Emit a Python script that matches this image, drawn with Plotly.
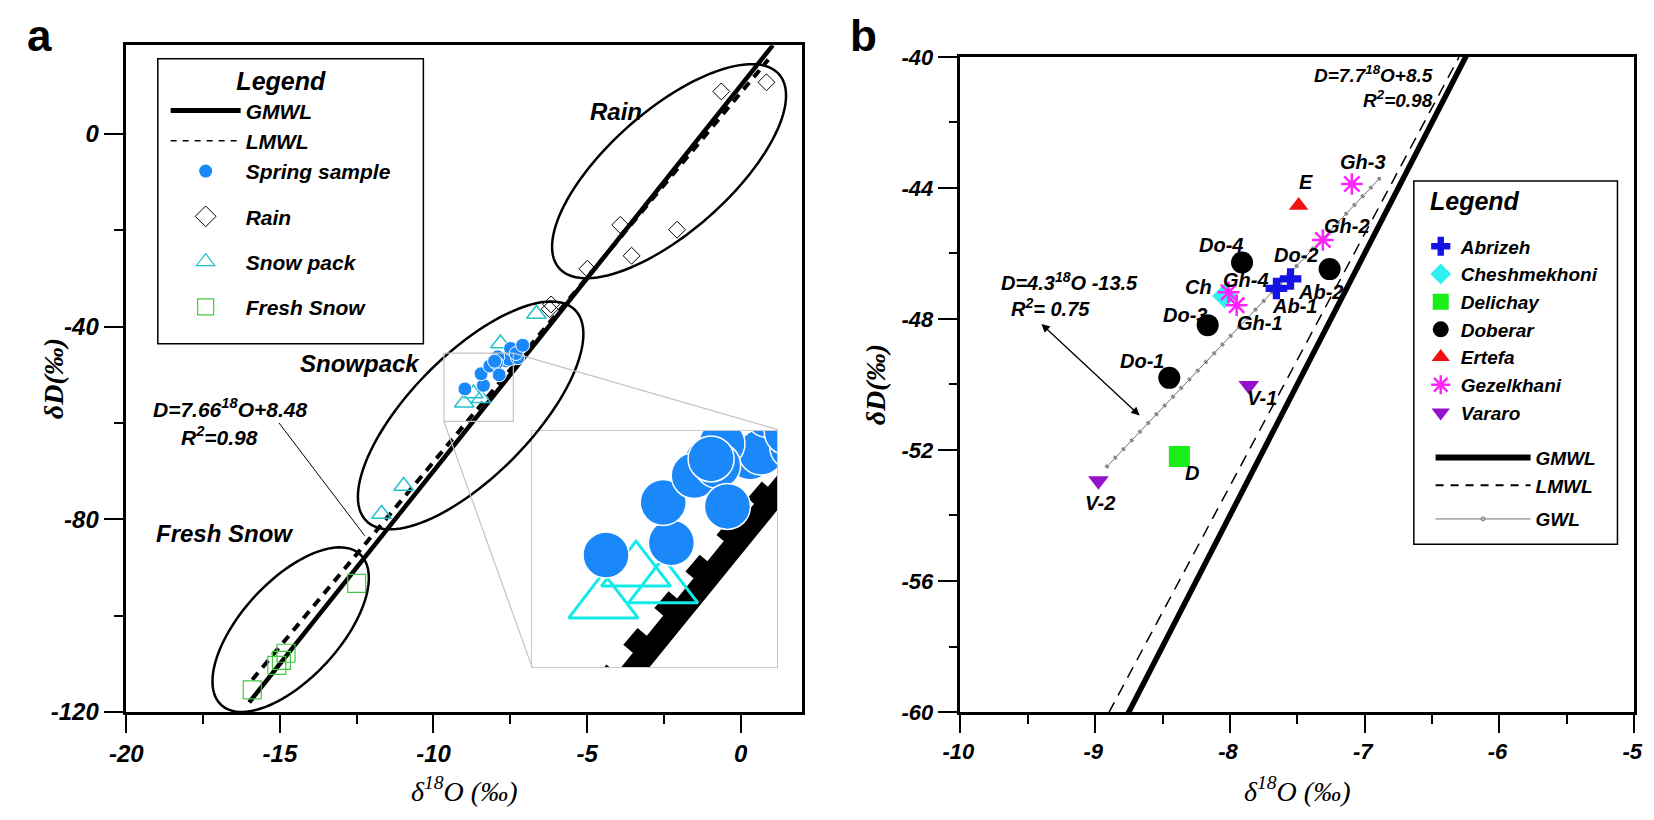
import numpy as np
import plotly.graph_objects as go

W, H = 1654, 820          # browser window
OFF = 8                   # default page margin before the plot div
FW, FH = W - OFF, H - OFF

# ---- panel a data (delta 18O, delta D, permil) ----
gmwl_o = [-16.0, 1.05]
gmwl_d = [-118.0, 18.4]
lmwl_a_o = [-15.9, 0.9]
lmwl_a_d = [-113.3, 15.4]

rain_o = [-0.63, 0.84, -3.92, -2.07, -3.55, -4.99, -6.22, -6.17]
rain_d = [8.8, 10.7, -18.9, -19.9, -25.3, -28.0, -36.4, -35.4]

snow_o = [-9.0, -8.7, -8.45, -7.82, -6.65, -10.97, -11.69]
snow_d = [-55.8, -53.9, -54.9, -43.5, -37.4, -73.1, -78.9]

fresh_o = [-12.5, -14.8, -14.95, -15.1, -15.9]
fresh_d = [-93.3, -107.8, -109.3, -110.3, -115.4]

# ---- panel b data: spring samples by site ----
ab_o = [-7.655, -7.55]
ab_d = [-47.07, -46.78]
ab_lbl = ["Ab-1", "Ab-2"]
ch_o = [-8.04]
ch_d = [-47.30]
ch_lbl = ["Ch"]
de_o = [-8.375]
de_d = [-52.20]
de_lbl = ["D"]
do_o = [-8.45, -7.26, -8.165, -7.91]
do_d = [-49.80, -46.48, -48.19, -46.28]
do_lbl = ["Do-1", "Do-2", "Do-3", "Do-4"]
er_o = [-7.49]
er_d = [-44.54]
er_lbl = ["E"]
gh_o = [-7.95, -7.31, -7.095, -8.01]
gh_d = [-47.58, -45.59, -43.88, -47.19]
gh_lbl = ["Gh-1", "Gh-2", "Gh-3", "Gh-4"]
va_o = [-7.86, -8.976]
va_d = [-50.03, -52.94]
va_lbl = ["V-1", "V-2"]

lmwl_b_o = [-8.9, -6.3]
lmwl_b_d = [-60.03, -40.01]
gwl_o = [-8.92, -6.88]
gwl_d = [-52.54, -43.67]

# tick labels
a_xticks = [-20, -15, -10, -5, 0]
a_xtext = ["-20", "-15", "-10", "-5", "0"]
a_yticks = [-120, -80, -40, 0]
a_ytext = ["-120", "-80", "-40", "0"]
b_xticks = [-10, -9, -8, -7, -6, -5]
b_xtext = ["-10", "-9", "-8", "-7", "-6", "-5"]
b_yticks = [-60, -56, -52, -48, -44, -40]
b_ytext = ["-60", "-56", "-52", "-48", "-44", "-40"]

spring_o = ab_o + ch_o + de_o + do_o + er_o + gh_o + va_o
spring_d = ab_d + ch_d + de_d + do_d + er_d + gh_d + va_d

# ---- geometry (pixels of the 1654x820 window) ----
A_L, A_R, A_T, A_B = 110, 797, 34, 722
B_L, B_R, B_T, B_B = 958, 1643, 46, 722
a_xr = [-20, 2]
a_yr = [-120, 18.4]
inset_xr = [-9.66, -7.40]
inset_yr = [-59.66, -45.52]


def px(x):
    return (x - OFF) / FW


def py(y):
    return 1 - (y - OFF) / FH


def dx(p0, p1):
    return [px(p0), px(p1)]


def dy(top, bot):
    return [py(bot), py(top)]


sx = (A_R - A_L) / (a_xr[1] - a_xr[0])
sy = (A_B - A_T) / (a_yr[1] - a_yr[0])


def ellipse_path(cx, cy, a, b, ang):
    t = np.linspace(0, 2 * np.pi, 120)
    th = np.radians(ang)
    ex = a * np.cos(t) * np.cos(th) - b * np.sin(t) * np.sin(th)
    ey = a * np.cos(t) * np.sin(th) + b * np.sin(t) * np.cos(th)
    xs = cx + ex / sx
    ys = cy + ey / sy
    pts = " L ".join(f"{x:.4f},{y:.4f}" for x, y in zip(xs, ys))
    return "M " + pts + " Z"


BI = dict(family="Liberation Sans", weight="bold", style="italic", color="black")
SPRING = "#1a88f8"
SNOW = "#22c2cc"
FRESH = "#44c844"

fig = go.Figure()

# ---- panel a ----
fig.add_trace(go.Scatter(x=gmwl_o, y=gmwl_d, mode="lines", line=dict(color="black", width=4.5),
                         showlegend=False, xaxis="x", yaxis="y"))
fig.add_trace(go.Scatter(x=lmwl_a_o, y=lmwl_a_d, mode="lines",
                         line=dict(color="black", width=4, dash="9px,7px"),
                         showlegend=False, xaxis="x", yaxis="y"))
fig.add_trace(go.Scatter(x=rain_o, y=rain_d, mode="markers",
                         marker=dict(symbol="diamond-open", size=13, color="black", line=dict(width=1)),
                         showlegend=False, xaxis="x", yaxis="y"))
fig.add_trace(go.Scatter(x=snow_o, y=snow_d, mode="markers",
                         marker=dict(symbol="triangle-up-open", size=17, color=SNOW, line=dict(width=1.5)),
                         showlegend=False, xaxis="x", yaxis="y"))
fig.add_trace(go.Scatter(x=fresh_o, y=fresh_d, mode="markers",
                         marker=dict(symbol="square-open", size=18, color=FRESH, line=dict(width=1.2)),
                         showlegend=False, xaxis="x", yaxis="y"))
fig.add_trace(go.Scatter(x=spring_o, y=spring_d, mode="markers",
                         marker=dict(symbol="circle", size=14, color=SPRING, line=dict(color="white", width=1)),
                         showlegend=False, xaxis="x", yaxis="y"))

# inset (magnified view)
fig.add_trace(go.Scatter(x=gmwl_o, y=gmwl_d, mode="lines", line=dict(color="black", width=22),
                         showlegend=False, xaxis="x3", yaxis="y3"))
fig.add_trace(go.Scatter(x=lmwl_a_o, y=lmwl_a_d, mode="lines",
                         line=dict(color="black", width=16, dash="22px,26px"),
                         showlegend=False, xaxis="x3", yaxis="y3"))
fig.add_trace(go.Scatter(x=snow_o, y=snow_d, mode="markers",
                         marker=dict(symbol="triangle-up-open", size=60, color="#12eaea", line=dict(width=3)),
                         showlegend=False, xaxis="x3", yaxis="y3"))
fig.add_trace(go.Scatter(x=spring_o, y=spring_d, mode="markers",
                         marker=dict(symbol="circle", size=46, color=SPRING, line=dict(color="white", width=1.5)),
                         showlegend=False, xaxis="x3", yaxis="y3"))

# legend a entries
leg_a = [
    ("GMWL", dict(mode="lines", line=dict(color="black", width=5)), "g1"),
    ("LMWL", dict(mode="lines", line=dict(color="black", width=1.5, dash="6px,6px")), "g1"),
    ("Spring sample", dict(mode="markers", marker=dict(symbol="circle", size=13, color=SPRING)), "g1"),
    ("Rain", dict(mode="markers", marker=dict(symbol="diamond-open", size=16, color="black",
                                               line=dict(width=1))), "g2"),
    ("Snow pack", dict(mode="markers", marker=dict(symbol="triangle-up-open", size=16, color=SNOW,
                                                    line=dict(width=1.2))), "g3"),
    ("Fresh Snow", dict(mode="markers", marker=dict(symbol="square-open", size=16, color=FRESH,
                                                     line=dict(width=1.2))), "g4"),
]
for name, st, grp in leg_a:
    fig.add_trace(go.Scatter(x=[None], y=[None], name=name, legend="legend", legendgroup=grp,
                             xaxis="x", yaxis="y", **st))

# ---- panel b ----
fig.add_trace(go.Scatter(x=gmwl_o, y=gmwl_d, mode="lines", line=dict(color="black", width=5.5),
                         showlegend=False, xaxis="x2", yaxis="y2"))
fig.add_trace(go.Scatter(x=lmwl_b_o, y=lmwl_b_d, mode="lines",
                         line=dict(color="black", width=1.5, dash="12px,8px"),
                         showlegend=False, xaxis="x2", yaxis="y2"))
fig.add_trace(go.Scatter(x=gwl_o, y=gwl_d, mode="lines", line=dict(color="#707070", width=1),
                         showlegend=False, xaxis="x2", yaxis="y2"))
fig.add_trace(go.Scatter(x=gwl_o, y=gwl_d, mode="lines",
                         line=dict(color="#8a8a8a", width=4, dash="3px,9px"),
                         showlegend=False, xaxis="x2", yaxis="y2"))

sites = [
    ("Abrizeh", ab_o, ab_d, dict(symbol="cross", size=18, color="#1414e6")),
    ("Cheshmekhoni", ch_o, ch_d, dict(symbol="diamond", size=19, color="#2ef0f0")),
    ("Delichay", de_o, de_d, dict(symbol="square", size=21, color="#19ee19")),
    ("Doberar", do_o, do_d, dict(symbol="circle", size=22, color="black")),
    ("Ertefa", er_o, er_d, dict(symbol="triangle-up", size=17, color="#f01010")),
    ("Gezelkhani", gh_o, gh_d, dict(symbol="asterisk-open", size=18, color="#ff22ff",
                                    line=dict(width=2.5, color="#ff22ff"))),
    ("Vararo", va_o, va_d, dict(symbol="triangle-down", size=18, color="#9412cc")),
]
for name, xo, yd, mk in sites:
    fig.add_trace(go.Scatter(x=xo, y=yd, mode="markers", marker=mk, name=name, legend="legend2",
                             xaxis="x2", yaxis="y2"))

leg_b_lines = [
    ("GMWL", dict(mode="lines", line=dict(color="black", width=6)), "l1"),
    ("LMWL", dict(mode="lines", line=dict(color="black", width=2, dash="8px,7px")), "l1"),
    ("GWL", dict(mode="lines+markers", line=dict(color="#707070", width=1),
                 marker=dict(symbol="circle-open", size=4, color="#707070")), "l2"),
]
for name, st, grp in leg_b_lines:
    fig.add_trace(go.Scatter(x=[None], y=[None], name=name, legend="legend3", legendgroup=grp,
                             xaxis="x2", yaxis="y2", **st))

# ---- shapes ----
shapes = []
for cx, cy, a, b, ang in [(-2.33, -7.75, 150, 62, 42), (-8.79, -58.44, 152, 62, 46),
                          (-14.65, -102.9, 105, 50, 48)]:
    shapes.append(dict(type="path", path=ellipse_path(cx, cy, a, b, ang), xref="x", yref="y",
                       line=dict(color="black", width=2.5)))
# zoom source box and connectors
shapes.append(dict(type="rect", xref="x", yref="y", x0=inset_xr[0], x1=inset_xr[1],
                   y0=inset_yr[0], y1=inset_yr[1], line=dict(color="#c4c4c4", width=1.2)))
shapes.append(dict(type="line", xref="x", yref="y", x0=inset_xr[1], y0=inset_yr[1],
                   x1=1.22, y1=-61.4, line=dict(color="#c4c4c4", width=1.2)))
shapes.append(dict(type="line", xref="x", yref="y", x0=inset_xr[0], y0=inset_yr[0],
                   x1=-6.79, y1=-110.7, line=dict(color="#c4c4c4", width=1.2)))
# equation leader line in a
shapes.append(dict(type="line", xref="x", yref="y", x0=-15.03, y0=-60.0, x1=-12.24, y1=-83.4,
                   line=dict(color="black", width=1)))
# legend frames
shapes.append(dict(type="rect", xref="paper", yref="paper", x0=px(142), x1=px(412),
                   y0=py(342), y1=py(48), line=dict(color="black", width=1.5)))
shapes.append(dict(type="rect", xref="paper", yref="paper", x0=px(1419), x1=px(1626),
                   y0=py(549), y1=py(174), line=dict(color="black", width=1.5),
                   fillcolor="white", layer="above"))

# ---- annotations ----
PAPER = dict(xref="paper", yref="paper", showarrow=False, xanchor="center", yanchor="middle")
ann = []
ann.append(dict(PAPER, text="a", x=px(22), y=py(24),
                font=dict(family="Liberation Sans", size=44, weight="bold", color="black")))
ann.append(dict(PAPER, text="b", x=px(859), y=py(24),
                font=dict(family="Liberation Sans", size=44, weight="bold", color="black")))
serif_i = dict(family="Liberation Serif", style="italic", size=28, color="black")
for cxp in [(A_L + A_R) / 2, (B_L + B_R) / 2]:
    ann.append(dict(PAPER, text="δ<sup>18</sup>O (‰)", x=px(cxp), y=py(802), font=serif_i))
ann.append(dict(PAPER, text="δD(‰)", x=px(36), y=py(378), textangle=-90,
                font=dict(serif_i, weight="bold")))
ann.append(dict(PAPER, text="δD(‰)", x=px(872), y=py(384), textangle=-90,
                font=dict(serif_i, weight="bold")))
ann.append(dict(PAPER, text="Legend", x=px(1433), y=py(195), xanchor="left",
                font=dict(BI, size=25)))

for txt, x, y in [("Rain", -4.05, 4.7), ("Snowpack", -12.38, -47.6), ("Fresh Snow", -16.8, -83.0)]:
    ann.append(dict(text=txt, x=x, y=y, xref="x", yref="y", showarrow=False, font=dict(BI, size=24)))
ann.append(dict(text="D=7.66<sup>18</sup>O+8.48", x=-16.64, y=-56.8, xref="x", yref="y",
                showarrow=False, font=dict(BI, size=21)))
ann.append(dict(text="R<sup>2</sup>=0.98", x=-16.96, y=-62.67, xref="x", yref="y",
                showarrow=False, font=dict(BI, size=21)))

ann.append(dict(text="D=7.7<sup>18</sup>O+8.5", x=-6.48, y=-40.53, xref="x2", yref="y2", xanchor="right",
                showarrow=False, font=dict(BI, size=19)))
ann.append(dict(text="R<sup>2</sup>=0.98", x=-6.48, y=-41.30, xref="x2", yref="y2", xanchor="right",
                showarrow=False, font=dict(BI, size=19)))
ann.append(dict(text="D=4.3<sup>18</sup>O -13.5", x=-9.19, y=-46.86, xref="x2", yref="y2",
                showarrow=False, font=dict(BI, size=20)))
ann.append(dict(text="R<sup>2</sup>= 0.75", x=-9.33, y=-47.66, xref="x2", yref="y2",
                showarrow=False, font=dict(BI, size=20)))
ann.append(dict(text="", x=-8.67, y=-50.95, ax=-9.41, ay=-48.11, xref="x2", yref="y2",
                axref="x2", ayref="y2", showarrow=True, arrowhead=2, arrowside="end+start",
                arrowsize=1.3, arrowwidth=1.3, arrowcolor="black"))

offsets = {"Ab-1": (18, 18), "Ab-2": (30, 13), "Ch": (-26, -9), "D": (13, 17),
           "Do-1": (-27, -17), "Do-2": (-34, -14), "Do-3": (-23, -10), "Do-4": (-21, -18),
           "E": (7, -24), "Gh-1": (23, 18), "Gh-2": (24, -14), "Gh-3": (11, -22),
           "Gh-4": (17, -12), "V-1": (13, 13), "V-2": (2, 22)}
for xo, yd, lb in [(ab_o, ab_d, ab_lbl), (ch_o, ch_d, ch_lbl), (de_o, de_d, de_lbl),
                   (do_o, do_d, do_lbl), (er_o, er_d, er_lbl), (gh_o, gh_d, gh_lbl),
                   (va_o, va_d, va_lbl)]:
    for x, y, t in zip(xo, yd, lb):
        ox, oy = offsets[t]
        ann.append(dict(text=t, x=x, y=y, xref="x2", yref="y2", xshift=ox, yshift=-oy,
                        showarrow=False, font=dict(BI, size=20)))

# ---- axes ----
common = dict(showgrid=False, zeroline=False, showline=True, mirror=True, linecolor="black",
              linewidth=2.5, ticks="outside", tickwidth=2, tickcolor="black", ticklen=18,
              tickfont=dict(BI, size=24), ticklabeloverflow="allow")

fig.update_layout(
    width=FW, height=FH,
    margin=dict(l=0, r=0, t=0, b=0),
    paper_bgcolor="white", plot_bgcolor="white",
    xaxis=dict(common, domain=dx(A_L, A_R), range=a_xr, anchor="y", tickvals=a_xticks,
               ticktext=a_xtext, minor=dict(ticks="outside", ticklen=9, tickwidth=2, dtick=2.5,
                                            tick0=0, tickcolor="black")),
    yaxis=dict(common, domain=dy(A_T, A_B), range=a_yr, anchor="x", tickvals=a_yticks,
               ticktext=a_ytext, ticklen=20, minor=dict(ticks="outside", ticklen=10, tickwidth=2,
                                                        dtick=20, tick0=0, tickcolor="black")),
    xaxis2=dict(common, domain=dx(B_L, B_R), range=[-10, -5], anchor="y2", tickvals=b_xticks,
                ticktext=b_xtext, tickfont=dict(BI, size=22), ticklabelshift=-2,
                minor=dict(ticks="outside", ticklen=9, tickwidth=2, dtick=0.5, tick0=0,
                           tickcolor="black")),
    yaxis2=dict(common, domain=dy(B_T, B_B), range=[-60, -40], anchor="x2", tickvals=b_yticks,
                ticktext=b_ytext, tickfont=dict(BI, size=22), ticklen=20,
                minor=dict(ticks="outside", ticklen=9, tickwidth=2, dtick=2, tick0=0,
                           tickcolor="black")),
    xaxis3=dict(domain=dx(522, 772), range=inset_xr, anchor="y3", showgrid=False, zeroline=False,
                showline=True, mirror=True, linecolor="#c8c8c8", linewidth=1, showticklabels=False,
                ticks=""),
    yaxis3=dict(domain=dy(432, 676), range=inset_yr, anchor="x3", showgrid=False, zeroline=False,
                showline=True, mirror=True, linecolor="#c8c8c8", linewidth=1, showticklabels=False,
                ticks=""),
    legend=dict(x=px(150), y=py(47), xanchor="left", yanchor="top", bgcolor="rgba(0,0,0,0)",
                borderwidth=0, font=dict(BI, size=21), itemwidth=70, traceorder="grouped",
                tracegroupgap=15, title=dict(text="Legend", side="top center",
                                             font=dict(BI, size=25))),
    legend2=dict(x=px(1426), y=py(222), xanchor="left", yanchor="top",
                 bgcolor="rgba(0,0,0,0)", borderwidth=0, font=dict(BI, size=19)),
    legend3=dict(x=px(1436), y=py(440), xanchor="left", yanchor="top",
                 bgcolor="rgba(0,0,0,0)", borderwidth=0, font=dict(BI, size=19), itemwidth=95,
                 traceorder="grouped", tracegroupgap=6),
    shapes=shapes,
    annotations=ann,
)

fig.write_html("out.html")
